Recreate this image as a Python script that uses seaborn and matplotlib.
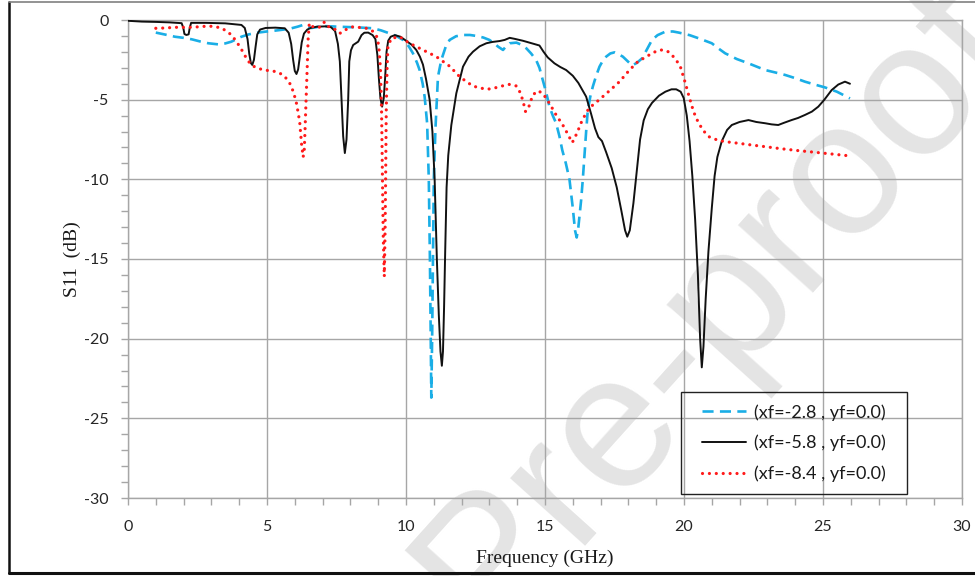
import matplotlib
matplotlib.use("Agg")
import matplotlib.pyplot as plt
import seaborn as sns
import pandas as pd
from matplotlib.lines import Line2D
from matplotlib.patches import Rectangle
from matplotlib.ticker import MultipleLocator

# Return loss of the antenna for three feed positions
freq_a = [1.0, 1.35, 1.69, 2.0, 2.29, 2.6, 2.89, 3.25, 3.5, 3.72, 3.9, 4.08, 4.35, 4.68, 5.0,
          5.28, 5.6, 5.88, 6.1, 6.3, 6.45, 6.6, 6.78, 6.96, 7.3, 7.7, 8.22, 8.81, 9.1, 9.41,
          9.65, 9.89, 10.1, 10.25, 10.4, 10.49, 10.6, 10.67, 10.76, 10.82, 10.86, 10.89, 10.91,
          10.94, 10.97, 11.0, 11.06, 11.15, 11.27, 11.43, 11.57, 11.8, 12.05, 12.3, 12.53,
          12.78, 13.0, 13.2, 13.31, 13.49, 13.6, 13.73, 13.97, 14.15, 14.33, 14.5, 14.68,
          14.8, 14.92, 15.05, 15.16, 15.28, 15.4, 15.52, 15.62, 15.75, 15.88, 16.0, 16.08,
          16.14, 16.2, 16.3, 16.36, 16.42, 16.48, 16.54, 16.63, 16.72, 16.84, 16.96, 17.08,
          17.2, 17.35, 17.5, 17.65, 17.8, 17.98, 18.13, 18.3, 18.49, 18.65, 18.85, 19.05,
          19.33, 19.6, 19.81, 20.2, 20.53, 21.0, 21.25, 21.48, 21.9, 22.32, 22.92, 23.3,
          23.64, 24.0, 24.35, 24.7, 25.07, 25.5, 25.97]
s11_a = [-0.79, -0.92, -1.05, -1.12, -1.21, -1.35, -1.46, -1.53, -1.47, -1.36, -1.2, -1.05,
         -0.9, -0.79, -0.72, -0.67, -0.6, -0.52, -0.42, -0.31, -0.38, -0.5, -0.45, -0.38,
         -0.4, -0.43, -0.46, -0.52, -0.65, -0.84, -1.0, -1.25, -1.65, -2.09, -2.7, -3.14,
         -4.0, -4.81, -6.48, -10.0, -15.0, -20.0, -23.7, -20.0, -15.0, -10.0, -6.8, -3.56,
         -2.51, -1.67, -1.25, -1.02, -0.94, -0.94, -1.0, -1.1, -1.25, -1.5, -1.67, -1.88,
         -1.65, -1.46, -1.42, -1.55, -1.78, -2.1, -2.51, -3.0, -3.77, -4.6, -5.44, -6.0,
         -6.48, -7.3, -8.16, -9.0, -10.0, -11.8, -13.2, -13.65, -13.0, -11.3, -10.0, -8.5,
         -7.0, -5.65, -4.8, -4.18, -3.5, -2.93, -2.55, -2.3, -2.1, -2.03, -2.15, -2.3, -2.6,
         -2.85, -2.7, -2.41, -1.9, -1.25, -0.95, -0.73, -0.72, -0.79, -0.95, -1.15, -1.46,
         -1.8, -2.09, -2.45, -2.72, -3.14, -3.3, -3.45, -3.65, -3.87, -4.05, -4.23, -4.5,
         -4.92]

freq_b = [0.0, 0.5, 1.0, 1.5, 1.93, 1.99, 2.03, 2.1, 2.18, 2.22, 2.27, 2.8, 3.5, 4.08, 4.2,
          4.3, 4.36, 4.42, 4.47, 4.53, 4.59, 4.65, 4.75, 4.95, 5.3, 5.64, 5.78, 5.87, 5.94,
          6.0, 6.06, 6.12, 6.18, 6.25, 6.33, 6.45, 6.6, 6.8, 7.1, 7.3, 7.45, 7.55, 7.62,
          7.68, 7.74, 7.8, 7.86, 7.92, 7.96, 8.02, 8.1, 8.28, 8.4, 8.5, 8.64, 8.8, 8.9, 8.97,
          9.03, 9.08, 9.14, 9.2, 9.25, 9.3, 9.36, 9.45, 9.6, 9.8, 10.0, 10.2, 10.37, 10.5,
          10.61, 10.72, 10.85, 10.95, 11.03, 11.11, 11.18, 11.24, 11.29, 11.33, 11.37, 11.41,
          11.46, 11.52, 11.63, 11.81, 12.05, 12.25, 12.41, 12.65, 12.89, 13.1, 13.37, 13.55,
          13.73, 13.9, 14.2, 14.5, 14.8, 14.95, 15.1, 15.34, 15.55, 15.76, 16.0, 16.2, 16.48,
          16.66, 16.8, 16.92, 17.05, 17.2, 17.4, 17.58, 17.75, 17.88, 17.96, 18.05, 18.18,
          18.3, 18.42, 18.55, 18.7, 18.85, 19.1, 19.33, 19.55, 19.72, 19.88, 19.99, 20.1,
          20.2, 20.3, 20.4, 20.5, 20.58, 20.64, 20.7, 20.78, 20.88, 21.0, 21.1, 21.2, 21.36,
          21.55, 21.72, 22.0, 22.32, 22.6, 22.92, 23.15, 23.39, 23.6, 23.87, 24.1, 24.35,
          24.6, 24.83, 25.05, 25.31, 25.55, 25.79, 25.97]
s11_b = [-0.05, -0.1, -0.12, -0.15, -0.2, -0.5, -0.88, -0.94, -0.9, -0.5, -0.18, -0.18,
         -0.21, -0.31, -0.5, -1.2, -2.1, -2.7, -2.82, -2.5, -1.67, -0.9, -0.6, -0.5, -0.48,
         -0.52, -0.8, -1.5, -2.5, -3.2, -3.39, -3.1, -2.3, -1.4, -0.85, -0.6, -0.48, -0.42,
         -0.4, -0.45, -0.7, -1.5, -2.6, -5.0, -7.3, -8.35, -7.5, -5.0, -2.6, -1.9, -1.57,
         -1.36, -0.95, -0.8, -0.79, -0.95, -1.2, -2.2, -3.8, -4.9, -5.44, -4.9, -3.6, -2.0,
         -1.3, -1.05, -0.95, -1.05, -1.3, -1.55, -1.88, -2.3, -2.8, -3.7, -5.0, -7.0, -10.0,
         -15.0, -18.5, -20.8, -21.7, -20.8, -18.0, -14.5, -10.5, -8.5, -6.6, -4.6, -2.93,
         -2.3, -1.99, -1.65, -1.46, -1.38, -1.32, -1.25, -1.12, -1.18, -1.3, -1.45, -1.6,
         -2.0, -2.35, -2.72, -2.95, -3.14, -3.5, -3.95, -4.81, -5.9, -6.8, -7.35, -7.6, -8.3,
         -9.3, -10.5, -12.0, -13.2, -13.6, -13.2, -11.5, -9.5, -7.5, -6.3, -5.6, -5.2, -4.75,
         -4.5, -4.35, -4.35, -4.5, -4.9, -6.0, -7.6, -9.8, -12.5, -16.0, -20.0, -21.8, -20.5,
         -17.5, -14.5, -11.8, -9.8, -8.6, -7.6, -6.9, -6.59, -6.4, -6.28, -6.4, -6.48, -6.55,
         -6.59, -6.45, -6.28, -6.15, -5.96, -5.75, -5.44, -5.0, -4.4, -4.05, -3.87, -4.0]

freq_c = [1.0, 1.35, 1.69, 2.29, 2.89, 3.15, 3.37, 3.55, 3.72, 3.88, 4.02, 4.15, 4.26, 4.38,
          4.5, 4.7, 4.92, 5.15, 5.34, 5.5, 5.64, 5.78, 5.88, 5.98, 6.06, 6.13, 6.18, 6.24,
          6.3, 6.34, 6.37, 6.41, 6.45, 6.48, 6.52, 6.57, 6.66, 6.9, 7.07, 7.2, 7.5, 7.62,
          7.72, 7.8, 8.1, 8.57, 8.8, 8.93, 9.02, 9.08, 9.12, 9.15, 9.18, 9.22, 9.25, 9.27,
          9.29, 9.32, 9.35, 9.47, 9.77, 10.13, 10.61, 11.09, 11.33, 11.57, 11.93, 12.16,
          12.41, 12.64, 12.89, 13.12, 13.37, 13.6, 13.73, 13.97, 14.09, 14.2, 14.3, 14.36,
          14.42, 14.56, 14.74, 14.92, 15.16, 15.4, 15.64, 15.8, 15.98, 16.15, 16.34, 16.58,
          16.94, 17.32, 17.68, 18.04, 18.34, 18.6, 18.85, 19.05, 19.21, 19.4, 19.57, 19.75,
          19.87, 20.05, 20.15, 20.29, 20.4, 20.53, 20.7, 20.89, 21.25, 21.6, 21.97, 22.45,
          22.92, 23.5, 24.12, 24.7, 25.31, 25.97]
s11_c = [-0.52, -0.5, -0.46, -0.46, -0.38, -0.42, -0.52, -0.7, -0.94, -1.3, -1.67, -2.05,
         -2.41, -2.7, -2.89, -3.05, -3.14, -3.2, -3.24, -3.38, -3.56, -3.85, -4.18, -4.7,
         -5.23, -5.9, -6.48, -7.74, -8.6, -8.2, -6.8, -4.8, -2.8, -1.2, -0.25, -0.2, -0.45,
         -0.45, -0.12, -0.4, -0.63, -0.84, -0.72, -0.63, -0.42, -0.52, -0.7, -0.94, -1.6,
         -3.0, -5.6, -9.5, -13.5, -16.1, -13.0, -9.5, -5.65, -3.0, -1.67, -1.15, -1.05,
         -1.46, -1.88, -2.3, -2.6, -2.9, -3.56, -3.85, -4.15, -4.25, -4.35, -4.3, -4.18,
         -4.08, -4.04, -4.14, -4.5, -5.02, -5.75, -5.6, -5.44, -4.71, -4.44, -4.6, -5.23,
         -5.96, -6.59, -7.1, -7.7, -7.1, -6.28, -5.54, -5.02, -4.44, -3.87, -3.14, -2.61,
         -2.35, -2.09, -1.92, -1.88, -1.95, -2.2, -2.6, -2.93, -3.97, -4.6, -5.44, -6.0,
         -6.48, -6.95, -7.32, -7.57, -7.66, -7.74, -7.85, -7.95, -8.08, -8.2, -8.3, -8.41,
         -8.53]

case_labels = ["(xf=-2.8 , yf=0.0)", "(xf=-5.8 , yf=0.0)", "(xf=-8.4 , yf=0.0)"]
x_ticks = [0, 5, 10, 15, 20, 25, 30]
y_ticks = [0, -5, -10, -15, -20, -25, -30]

sns.set_theme(style="white")
plt.rcParams["font.family"] = ["Lato", "DejaVu Sans"]
plt.rcParams["axes.unicode_minus"] = False

W, H = 975, 576
fig = plt.figure(figsize=(W / 100, H / 100), dpi=100)
ax = fig.add_axes([128 / W, 1 - 498 / H, (962 - 128) / W, (498 - 20) / H])
ax.set_facecolor("none")

grid_c = "#a6a6a6"
styles = [
    dict(color="#1aaee6", lw=1.9, linestyle=(0, (4.2, 2.4)), dash_capstyle="butt"),
    dict(color="#111111", lw=1.4, linestyle="-"),
    dict(color="#ff1a1a", lw=2.3, linestyle=(0, (0.01, 2.15)), dash_capstyle="round"),
]
for fx, sy, lab, st in zip([freq_a, freq_b, freq_c], [s11_a, s11_b, s11_c], case_labels, styles):
    df = pd.DataFrame({"Frequency": fx, "S11": sy})
    sns.lineplot(data=df, x="Frequency", y="S11", ax=ax, estimator=None, sort=False,
                 label=lab, zorder=3, **st)

ax.set_xlim(0, 30)
ax.set_ylim(-30, 0)
ax.set_xticks(x_ticks)
ax.set_yticks(y_ticks)
ax.xaxis.set_minor_locator(MultipleLocator(1))
ax.yaxis.set_minor_locator(MultipleLocator(1))
ax.grid(True, which="major", color=grid_c, lw=1.0)
ax.set_axisbelow(True)
for sp in ax.spines.values():
    sp.set_color(grid_c)
    sp.set_linewidth(1.0)
ax.tick_params(which="both", direction="out", length=5, width=1.0, color=grid_c,
               labelsize=11.5, labelcolor="#262626")
ax.tick_params(axis="x", which="both", bottom=True, pad=11)
ax.tick_params(axis="y", which="both", left=True, pad=9)

ax.set_xlabel("Frequency (GHz)", family="Liberation Serif", fontsize=14, color="#1a1a1a",
              va="center")
ax.set_ylabel("S11  (dB)", family="Liberation Serif", fontsize=14, color="#1a1a1a",
              va="center")
ax.xaxis.set_label_coords(0.5, -0.1255)
ax.yaxis.set_label_coords(-0.067, 0.5)

# legend entries centred in a square-cornered box near the lower right
box_x0, box_y0, box_w, box_h = 0.6631, 0.0084, 0.271, 0.2134
leg = ax.legend(loc="center", bbox_to_anchor=(box_x0 + box_w / 2, box_y0 + box_h / 2),
                frameon=False, fontsize=13, handlelength=2.45, handletextpad=0.45,
                labelspacing=0.78, borderpad=0.0, borderaxespad=0.0)
for t in leg.get_texts():
    t.set_color("#1a1a1a")
ax.add_patch(Rectangle((box_x0, box_y0), box_w, box_h, transform=ax.transAxes,
                       facecolor="none", edgecolor="#222222", lw=1.0, zorder=4))

# draft watermark
ax.text(0.735, 0.465, "Pre-proof", transform=fig.transFigure, rotation=48,
        rotation_mode="anchor", ha="center", va="center", fontsize=138,
        family="Liberation Sans", color="#e4e4e4", zorder=0.2, clip_on=False)

# outer frame of the figure
fig.add_artist(Line2D([9 / W, 9 / W], [1 - 573 / H, 1 - 2 / H], color="#111111", lw=1.8))
fig.add_artist(Line2D([9 / W, 1.0], [1 - 573 / H, 1 - 573 / H], color="#111111", lw=2.2))
fig.add_artist(Line2D([9 / W, 1.0], [1 - 2 / H, 1 - 2 / H], color="#808080", lw=1.2))

fig.savefig("out.png", dpi=100)
